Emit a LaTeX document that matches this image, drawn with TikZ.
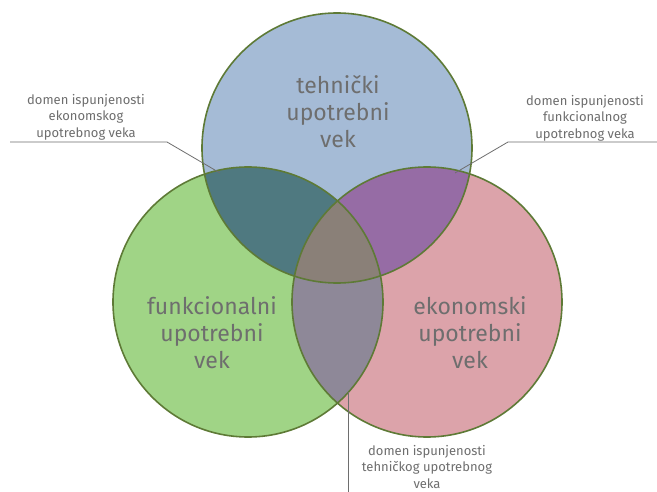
\documentclass[tikz,border=0pt]{standalone}
\usepackage{fontspec}
\setmainfont{Fira Sans}
\definecolor{techblue}{HTML}{A5BBD6}
\definecolor{funcgreen}{HTML}{A0D486}
\definecolor{ekopink}{HTML}{DCA3AA}
\definecolor{tfcol}{HTML}{4F7980}
\definecolor{tecol}{HTML}{966CA5}
\definecolor{fecol}{HTML}{8E8898}
\definecolor{allcol}{HTML}{8A8078}
\definecolor{ringcol}{HTML}{5E7A36}
\definecolor{textgray}{HTML}{6E6E6E}
\tikzset{
  ring/.style={draw=ringcol, line width=1.6pt},
  bigtext/.style={text=textgray, align=center, font=\fontsize{23}{27}\selectfont},
  smalltext/.style={text=textgray, align=center, font=\fontsize{13}{16.5}\selectfont},
  leader/.style={draw=textgray, line width=0.8pt},
}
\begin{document}
\begin{tikzpicture}[x=1pt,y=-1pt]
\useasboundingbox[fill=white] (0,0) rectangle (657,492);
\def\R{135}
% circle centres
\coordinate (T) at (337,148);
\coordinate (F) at (248,302);
\coordinate (E) at (427,302);
% base fills
\fill[techblue] (T) circle[radius=\R];
\fill[funcgreen] (F) circle[radius=\R];
\fill[ekopink] (E) circle[radius=\R];
% functional/economic overlap
\begin{scope}
  \clip (F) circle[radius=\R];
  \fill[fecol] (E) circle[radius=\R];
\end{scope}
% overlaps with the technical circle
\begin{scope}
  \clip (T) circle[radius=\R];
  \fill[tfcol] (F) circle[radius=\R];
  \fill[tecol] (E) circle[radius=\R];
  \clip (F) circle[radius=\R];
  \fill[allcol] (E) circle[radius=\R];
\end{scope}
% outlines
\draw[ring] (T) circle[radius=\R];
\draw[ring] (F) circle[radius=\R];
\draw[ring] (E) circle[radius=\R];
% main labels
\node[bigtext] (tech) at (338,112) {tehnički\\upotrebni\\vek};
\node[bigtext] (func) at (212,333) {funkcionalni\\upotrebni\\vek};
\node[bigtext] (eko) at (470,333) {ekonomski\\upotrebni\\vek};
% domain labels
\node[smalltext] (lblE) at (86,117) {domen ispunjenosti\\ekonomskog\\upotrebnog veka};
\node[smalltext] (lblF) at (585,118) {domen ispunjenosti\\funkcionalnog\\upotrebnog veka};
\node[smalltext] (lblT) at (427,467) {domen ispunjenosti\\tehničkog upotrebnog\\veka};
% leader lines
\coordinate (lA) at (10,142);
\coordinate (lB) at (167,142);
\coordinate (lC) at (220,173);
\coordinate (rA) at (657,142);
\coordinate (rB) at (508,142);
\coordinate (rC) at (455,173);
\coordinate (bA) at (348,392);
\coordinate (bB) at (348,492);
\draw[leader] (lA) -- (lB) -- (lC);
\draw[leader] (rA) -- (rB) -- (rC);
\draw[leader] (bA) -- (bB);
\end{tikzpicture}
\end{document}
